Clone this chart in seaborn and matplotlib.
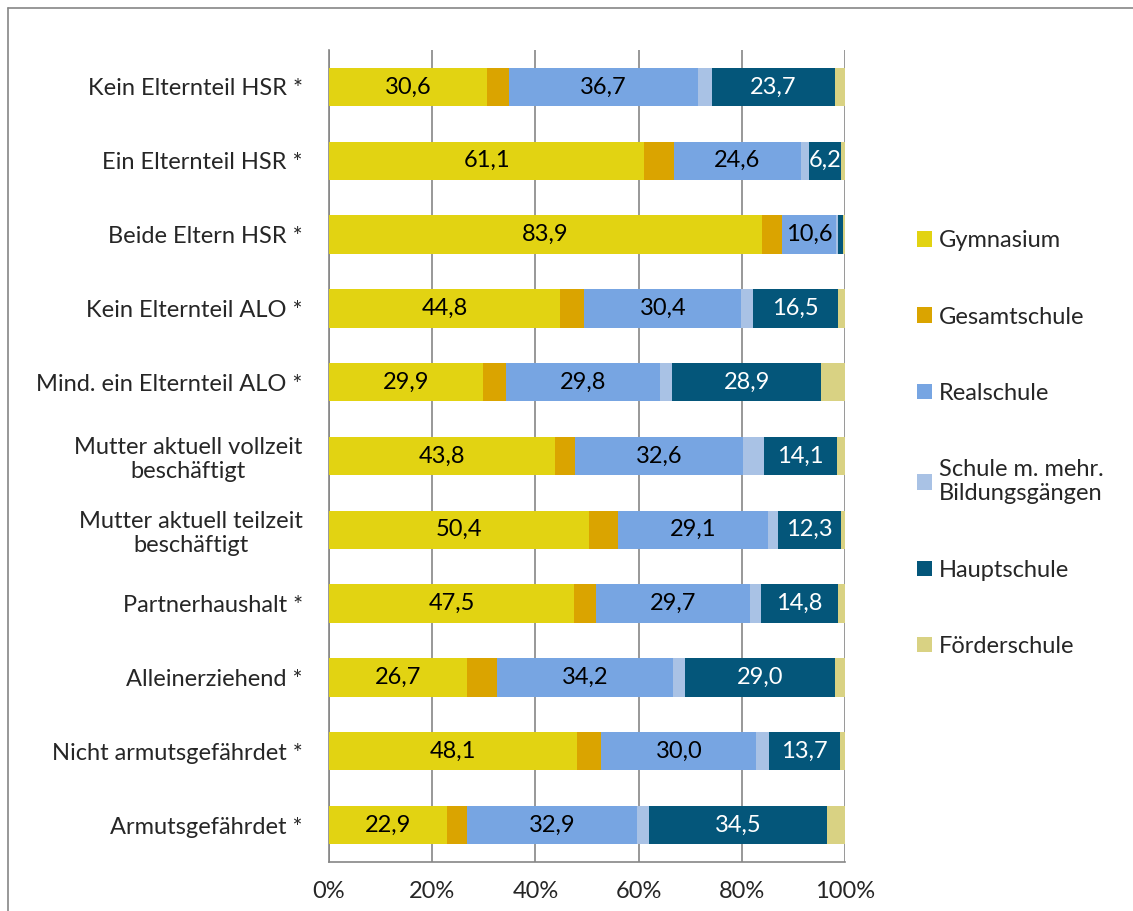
import numpy as np
import pandas as pd
import seaborn as sns
import matplotlib.pyplot as plt
from matplotlib.patches import Patch
from matplotlib.lines import Line2D

# categories top to bottom
groups = ['Kein Elternteil HSR *', 'Ein Elternteil HSR *', 'Beide Eltern HSR *',
          'Kein Elternteil ALO *', 'Mind. ein Elternteil ALO *',
          'Mutter aktuell vollzeit\nbeschäftigt', 'Mutter aktuell teilzeit\nbeschäftigt',
          'Partnerhaushalt *', 'Alleinerziehend *', 'Nicht armutsgefährdet *',
          'Armutsgefährdet *']

schools = ['Gymnasium', 'Gesamtschule', 'Realschule',
           'Schule m. mehr.\nBildungsgängen', 'Hauptschule', 'Förderschule']

gymnasium    = [30.6, 61.1, 83.9, 44.8, 29.9, 43.8, 50.4, 47.5, 26.7, 48.1, 22.9]
gesamtschule = [4.2, 5.7, 3.8, 4.7, 4.4, 3.9, 5.6, 4.3, 5.8, 4.7, 3.9]
realschule   = [36.7, 24.6, 10.6, 30.4, 29.8, 32.6, 29.1, 29.7, 34.2, 30.0, 32.9]
mehr_bild    = [2.8, 1.7, 0.3, 2.3, 2.4, 4.0, 1.9, 2.3, 2.3, 2.5, 2.3]
hauptschule  = [23.7, 6.2, 1.1, 16.5, 28.9, 14.1, 12.3, 14.8, 29.0, 13.7, 34.5]
foerder      = [2.0, 0.7, 0.3, 1.3, 4.6, 1.6, 0.7, 1.4, 2.0, 1.0, 3.5]

colors = ['#E2D312', '#DAA400', '#77A5E2', '#A9C2E5', '#04567A', '#D9D283']
labelled = {0: 'black', 2: 'black', 4: 'white'}  # which segments get value labels

series = [gymnasium, gesamtschule, realschule, mehr_bild, hauptschule, foerder]

df = pd.DataFrame({'group': groups})
for name, vals in zip(schools, series):
    df[name] = vals
cum = df[schools].cumsum(axis=1)

sns.set_style('white')
plt.rcParams['font.family'] = ['Lato', 'DejaVu Sans']
fs = 17

fig = plt.figure(figsize=(11.33, 9.11), dpi=100)
ax = fig.add_axes([0.2904, 0.0538, 0.4554, 0.8913])

# stacked bars: draw cumulative totals from the outermost segment inwards
for i in range(len(schools) - 1, -1, -1):
    sns.barplot(x=cum[schools[i]], y=df['group'], color=colors[i], orient='h',
                width=0.52, ax=ax, saturation=1, zorder=3, edgecolor='none')

# value labels (tiny segments are left without a label)
for i, c in labelled.items():
    left = cum[schools[i]] - df[schools[i]]
    for j, v in enumerate(df[schools[i]]):
        if v < 3:
            continue
        ax.text(left[j] + v / 2, j, f'{v:.1f}'.replace('.', ','), ha='center',
                va='center', color=c, fontsize=fs, zorder=5)

ax.set_xlim(0, 100)
ax.set_ylim(len(groups) - 0.5, -0.5)
ax.set_xticks(np.arange(0, 101, 20))
ax.set_xticklabels([f'{t}%' for t in range(0, 101, 20)], fontsize=fs)
ax.set_xlabel('')
ax.set_ylabel('')
ax.xaxis.grid(True, color='#868686', linewidth=1.2, zorder=0)
ax.set_axisbelow(True)
for s in ['top', 'right']:
    ax.spines[s].set_visible(False)
for s in ['left', 'bottom']:
    ax.spines[s].set_color('#868686')
    ax.spines[s].set_linewidth(1.2)

ax.tick_params(axis='y', which='major', length=0, pad=19, labelsize=fs)
ax.set_yticks(np.arange(-0.5, len(groups), 1), minor=True)
ax.tick_params(axis='y', which='minor', length=7, color='#868686', width=1.2)
ax.tick_params(axis='x', length=7, color='#868686', width=1.2, pad=7)
for t in ax.get_yticklabels():
    t.set_multialignment('center')

handles = [Patch(facecolor=c, edgecolor='none') for c in colors]
fig.legend(handles, schools, loc='center left', bbox_to_anchor=(0.809, 0.513),
           frameon=False, fontsize=fs, handlelength=0.64, handleheight=0.64,
           handletextpad=0.3, labelspacing=2.34, borderpad=0, borderaxespad=0)

# chart border (only left and top are inside the image)
fig.add_artist(Line2D([0.007, 0.007], [0, 0.991], color='#868686', lw=1.2,
                      transform=fig.transFigure))
fig.add_artist(Line2D([0.007, 1], [0.991, 0.991], color='#868686', lw=1.2,
                      transform=fig.transFigure))

fig.savefig('out.png', dpi=100)
